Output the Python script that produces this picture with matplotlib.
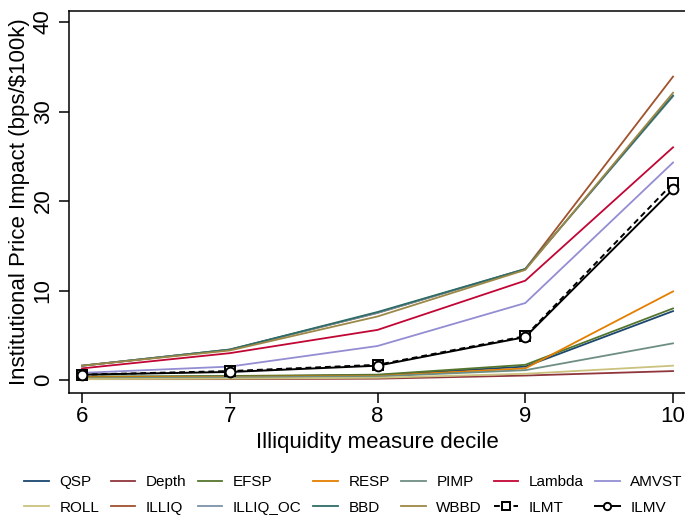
import matplotlib
matplotlib.use("Agg")
import matplotlib.pyplot as plt

# Price impact by illiquidity decile (bps per $100k), deciles 6-10
deciles = [6, 7, 8, 9, 10]

qsp = [0.3, 0.4, 0.55, 1.5, 7.7]
depth = [0.1, 0.1, 0.15, 0.5, 1.0]
efsp = [0.4, 0.45, 0.6, 1.7, 8.0]
resp = [0.3, 0.35, 0.45, 1.3, 9.9]
pimp = [0.2, 0.3, 0.4, 1.1, 4.1]
lam = [1.3, 3.0, 5.6, 11.1, 26.0]
amvst = [0.8, 1.5, 3.8, 8.6, 24.3]
roll = [0.1, 0.15, 0.25, 0.7, 1.6]
illiq = [1.6, 3.4, 7.5, 12.4, 33.9]
illiq_oc = [1.6, 3.4, 7.5, 12.4, 31.7]
bbd = [1.6, 3.4, 7.6, 12.4, 31.8]
wbbd = [1.6, 3.3, 7.1, 12.3, 32.1]
ilmt = [0.6, 1.0, 1.7, 4.9, 22.0]
ilmv = [0.6, 0.9, 1.6, 4.8, 21.3]

names = ["QSP", "Depth", "EFSP", "RESP", "PIMP", "Lambda", "AMVST",
         "ROLL", "ILLIQ", "ILLIQ_OC", "BBD", "WBBD"]
series = [qsp, depth, efsp, resp, pimp, lam, amvst,
          roll, illiq, illiq_oc, bbd, wbbd]
# Stata s2color palette
colors = ["#1a476f", "#90353b", "#55752f", "#e37e00", "#6e8e84", "#c10534",
          "#938dd2", "#cac27e", "#a0522d", "#7b92a8", "#2d6d66", "#9c8847"]

plt.rcParams["font.family"] = ["Liberation Sans", "DejaVu Sans"]

fig = plt.figure(figsize=(6.85, 5.2), dpi=100)
W, H = 685, 520
ax = fig.add_axes([69 / W, 127 / H, (W - 69) / W, 382 / H])

handles = []
for name, vals, c in zip(names, series, colors):
    h, = ax.plot(deciles, vals, color=c, lw=1.3, label=name)
    handles.append(h)

h, = ax.plot(deciles, ilmt, color="black", lw=1.4, dashes=(3, 2),
             marker="s", ms=7, mfc="white", mec="black", mew=1.4, label="ILMT")
handles.append(h)
h, = ax.plot(deciles, ilmv, color="black", lw=1.4,
             marker="o", ms=7, mfc="white", mec="black", mew=1.4, label="ILMV")
handles.append(h)

ax.set_xlim(5.912, 10.081)
ax.set_ylim(-1.45, 41.23)
ax.set_xticks(deciles)
ax.set_yticks([0, 10, 20, 30, 40])
ax.spines["right"].set_visible(False)
for s in ["left", "bottom", "top"]:
    ax.spines[s].set_linewidth(1.1)
ax.tick_params(axis="both", direction="out", length=7, width=1.1, labelsize=16)
ax.tick_params(axis="y", pad=4)
ax.tick_params(axis="x", pad=2)
for lbl in ax.get_yticklabels():
    lbl.set_rotation(90)
    lbl.set_va("center")

ax.set_xlabel("Illiquidity measure decile", fontsize=16, labelpad=4)
ax.set_ylabel("Institutional Price Impact (bps/$100k)", fontsize=16)
ax.yaxis.set_label_coords(-39 / 616, 0.5)

# legend fills row by row: reorder for matplotlib's column-major layout
ncol = 7
order = []
for col in range(ncol):
    order += [col, col + ncol]
labels = [h.get_label() for h in handles]
fig.legend([handles[i] for i in order], [labels[i] for i in order],
           ncol=ncol, loc="center", bbox_to_anchor=(0.5 + 11 / W, 25 / H),
           frameon=False, fontsize=11, handlelength=1.6, handletextpad=0.7,
           columnspacing=0.75, labelspacing=0.75, numpoints=1, markerscale=0.75)

fig.savefig("out.png", dpi=100)
